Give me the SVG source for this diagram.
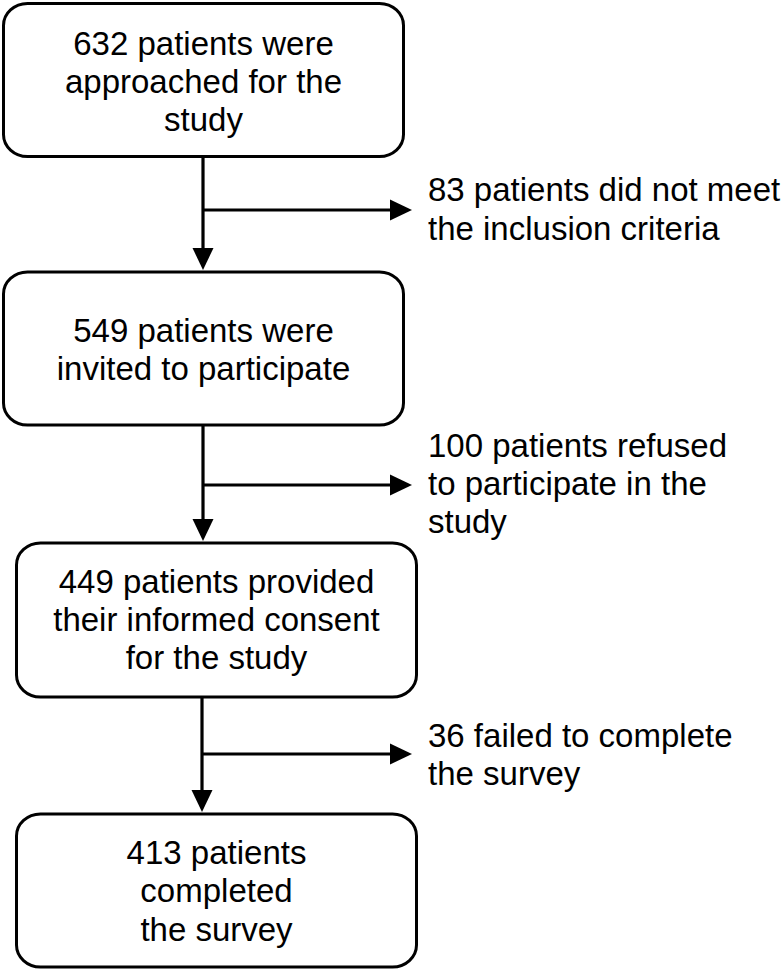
<svg xmlns="http://www.w3.org/2000/svg" width="784" height="971" viewBox="0 0 784 971">
<style>
.box{fill:#fff;stroke:#000;stroke-width:3}
.t{font-family:"Liberation Sans",Arial,Helvetica,sans-serif;font-size:33px;fill:#000}
.c{text-anchor:middle}
.conn{fill:none;stroke:#000;stroke-width:3.2}
</style>
<defs>
<marker id="ah" markerUnits="userSpaceOnUse" markerWidth="24" markerHeight="22" refX="2" refY="11" orient="auto" viewBox="0 0 24 22">
<path d="M0,0.5 L22,11 L0,21.5 z" fill="#000"/>
</marker>
</defs>
<rect width="784" height="971" fill="#fff"/>
<g id="connectors">
<path class="conn" d="M203,157 V250" marker-end="url(#ah)"/>
<path class="conn" d="M203,210 H392" marker-end="url(#ah)"/>
<path class="conn" d="M203,425 V521" marker-end="url(#ah)"/>
<path class="conn" d="M203,485 H392" marker-end="url(#ah)"/>
<path class="conn" d="M202,697 V792" marker-end="url(#ah)"/>
<path class="conn" d="M202,754 H392" marker-end="url(#ah)"/>
</g>
<g id="n1">
<rect class="box" x="3.5" y="3.5" width="400" height="153" rx="24" ry="22"/>
<text class="t c" x="203.5" y="55">632 patients were</text>
<text class="t c" x="203.5" y="93">approached for the</text>
<text class="t c" x="203.5" y="131">study</text>
</g>
<g id="n2">
<rect class="box" x="3.5" y="272" width="400" height="153" rx="24" ry="22"/>
<text class="t c" x="203.5" y="342">549 patients were</text>
<text class="t c" x="203.5" y="380">invited to participate</text>
</g>
<g id="n3">
<rect class="box" x="16.5" y="543" width="400" height="154" rx="24" ry="22"/>
<text class="t c" x="216.5" y="593">449 patients provided</text>
<text class="t c" x="216.5" y="631">their informed consent</text>
<text class="t c" x="216.5" y="669">for the study</text>
</g>
<g id="n4">
<rect class="box" x="16.5" y="814" width="400" height="153" rx="24" ry="22"/>
<text class="t c" x="216.5" y="864">413 patients</text>
<text class="t c" x="216.5" y="902">completed</text>
<text class="t c" x="216.5" y="941">the survey</text>
</g>
<g id="e1">
<text class="t" x="428" y="201">83 patients did not meet</text>
<text class="t" x="428" y="240">the inclusion criteria</text>
</g>
<g id="e2">
<text class="t" x="428" y="457">100 patients refused</text>
<text class="t" x="428" y="495">to participate in the</text>
<text class="t" x="428" y="533">study</text>
</g>
<g id="e3">
<text class="t" x="428" y="747">36 failed to complete</text>
<text class="t" x="428" y="785">the survey</text>
</g>
</svg>
